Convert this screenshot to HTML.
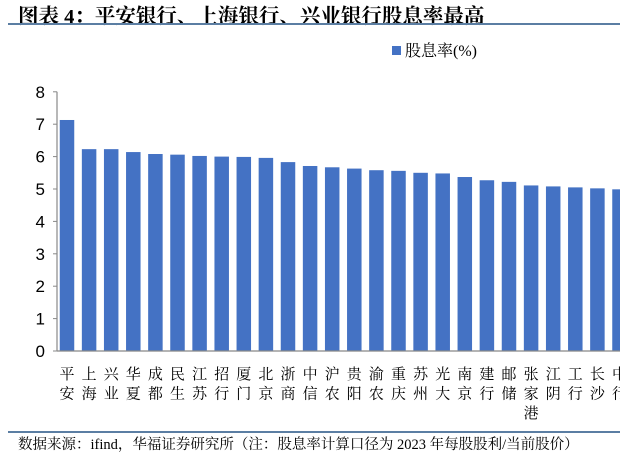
<!DOCTYPE html>
<html><head><meta charset="utf-8"><style>
body{margin:0;background:#fff;width:620px;height:453px;overflow:hidden;position:relative;font-family:"Liberation Serif","Noto Serif CJK SC",serif}
#title{position:absolute;left:18px;top:-1px;font-size:20.5px;font-weight:bold;color:#000;white-space:nowrap}
#tline{position:absolute;left:8px;top:23px;width:612px;height:2px;background:#5b7ea3}
#fline{position:absolute;left:8px;top:431px;width:612px;height:2px;background:#5b7ea3}
#foot{position:absolute;left:18px;top:433px;font-size:14.5px;color:#000;white-space:nowrap}
svg{position:absolute;left:0;top:0}
</style></head><body>
<div id="title">图表 4：平安银行、上海银行、兴业银行股息率最高</div>
<div id="tline"></div>
<svg id="chart" width="620" height="453"></svg>
<div id="fline"></div>
<div id="foot">数据来源：ifind，华福证券研究所（注：股息率计算口径为 2023 年每股股利/当前股价）</div>
<script>
const categories=["平安","上海","兴业","华夏","成都","民生","江苏","招行","厦门","北京","浙商","中信","沪农","贵阳","渝农","重庆","苏州","光大","南京","建行","邮储","张家港","江阴","工行","长沙","中行"];
const values=[7.13,6.23,6.23,6.14,6.08,6.06,6.02,6.0,5.99,5.96,5.83,5.71,5.67,5.63,5.58,5.56,5.5,5.48,5.37,5.27,5.22,5.11,5.08,5.05,5.02,4.99];
const yTicks=[0,1,2,3,4,5,6,7,8];
const seriesName="股息率(%)";
const NS="http://www.w3.org/2000/svg";
const svg=document.getElementById('chart');
const y0=351,pxPerUnit=32.4,axisX=57,firstX=67,step=22.1,bw=14.5;
const yScale=v=>y0-v*pxPerUnit;
const xScale=i=>firstX+i*step;
function mk(t,a){const e=document.createElementNS(NS,t);for(const k in a)e.setAttribute(k,a[k]);svg.appendChild(e);return e;}
let e=mk('line',{x1:axisX,x2:axisX,y1:yScale(8),y2:y0,stroke:'#888','stroke-width':1.2});


yTicks.forEach(t=>{
 let l=mk('line',{x1:axisX-4,x2:axisX,y1:yScale(t),y2:yScale(t),stroke:'#888'});
 
 
 let tx=mk('text',{x:axisX-12,y:yScale(t)+6,'text-anchor':'end','font-size':17,'font-family':'Liberation Sans, sans-serif',fill:'#000'});
 tx.textContent=t;
 
 
});
values.forEach((v,i)=>{
 let r=mk('rect',{x:xScale(i)-bw/2,y:yScale(v),width:bw,height:y0-yScale(v),fill:'#4472c4'});
 
 
 const chars=[...categories[i]];
 chars.forEach((c,j)=>{
  let tx=mk('text',{x:xScale(i),y:379+j*19.5,'text-anchor':'middle','font-size':15,'font-family':'Noto Serif CJK SC, Noto Sans CJK SC, serif',fill:'#000'});
  tx.textContent=c;
  
  
 });
});
e=mk('line',{x1:axisX,x2:620,y1:y0,y2:y0,stroke:'#888','stroke-width':1.2});


let lg=mk('rect',{x:392,y:46,width:9,height:9,fill:'#4472c4'});


let lt=mk('text',{x:405,y:56,'font-size':16,'font-family':'Liberation Serif, Noto Serif CJK SC, serif',fill:'#000'});
lt.textContent=seriesName;


</script>
</body></html>
